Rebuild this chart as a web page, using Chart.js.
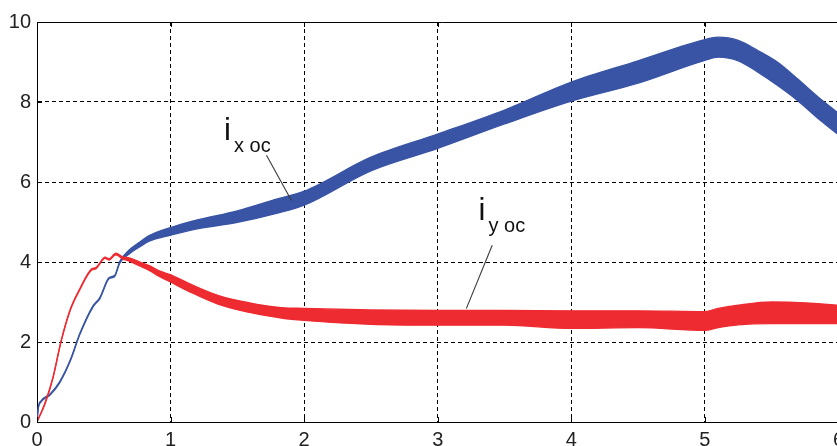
<!DOCTYPE html>
<html>
<head>
<meta charset="utf-8">
<script src="https://cdn.jsdelivr.net/npm/chart.js@4/dist/chart.umd.min.js"></script>
<style>
  html, body { margin: 0; padding: 0; background: #fff; overflow: hidden; width: 837px; height: 446px; }
  #wrap { width: 850px; height: 446px; }
</style>
</head>
<body>
<div id="wrap"><canvas id="c" width="850" height="446"></canvas></div>
<script>
// Axis ticks
const xTicks = [0, 1, 2, 3, 4, 5, 6];
const yTicks = [0, 2, 4, 6, 8, 10];

// i_x oc : lower / upper edge of the ripple band
const ixX    = [0, 0.01, 0.03, 0.10, 0.17, 0.25, 0.32, 0.42, 0.47, 0.54, 0.58, 0.62, 0.69, 0.77, 0.84, 1.00, 1.20, 1.50, 1.80, 2.00, 2.50, 3.00, 3.50, 4.00, 4.50, 5.00, 5.10, 5.25, 5.40, 5.55, 5.70, 5.85, 6.00];
const ixLow  = [0, 0.35, 0.50, 0.68, 0.98, 1.53, 2.18, 2.88, 3.08, 3.58, 3.63, 3.97, 4.20, 4.38, 4.52, 4.67, 4.83, 4.99, 5.22, 5.42, 6.28, 6.84, 7.45, 8.02, 8.47, 9.04, 9.12, 9.03, 8.74, 8.40, 8.02, 7.58, 7.18];
const ixHigh = [0, 0.38, 0.53, 0.71, 1.01, 1.56, 2.21, 2.91, 3.11, 3.61, 3.66, 4.02, 4.30, 4.50, 4.66, 4.86, 5.05, 5.28, 5.58, 5.77, 6.62, 7.20, 7.80, 8.50, 9.03, 9.56, 9.62, 9.54, 9.28, 8.98, 8.56, 8.12, 7.72];

// i_y oc : lower / upper edge of the ripple band
const iyX    = [0, 0.06, 0.12, 0.18, 0.25, 0.32, 0.41, 0.44, 0.51, 0.54, 0.59, 0.64, 0.69, 0.77, 0.84, 0.92, 1.00, 1.14, 1.36, 1.59, 1.83, 2.00, 2.50, 3.00, 3.50, 4.00, 4.50, 5.00, 5.10, 5.25, 5.50, 5.75, 6.00];
const iyLow  = [0, 0.45, 1.10, 2.00, 2.80, 3.30, 3.80, 3.83, 4.09, 4.05, 4.18, 4.08, 4.02, 3.90, 3.79, 3.63, 3.50, 3.26, 2.94, 2.74, 2.60, 2.54, 2.44, 2.42, 2.42, 2.34, 2.36, 2.29, 2.36, 2.43, 2.46, 2.46, 2.46];
const iyHigh = [0, 0.48, 1.13, 2.03, 2.83, 3.33, 3.83, 3.86, 4.12, 4.08, 4.22, 4.13, 4.10, 4.00, 3.91, 3.77, 3.68, 3.46, 3.16, 2.98, 2.86, 2.84, 2.80, 2.79, 2.79, 2.78, 2.78, 2.76, 2.84, 2.92, 3.00, 2.98, 2.92];

// Curve labels (data coordinates of the text baseline) and their leader lines
const curveLabels = [
  { main: 'i', sub: 'x oc', x: 1.40, y: 7.04 },
  { main: 'i', sub: 'y oc', x: 3.305, y: 5.04 }
];
const leaderLines = [
  [1.718, 6.67, 1.905, 5.54],
  [3.408, 4.42, 3.214, 2.835]
];

const BLUE = '#3954a5';
const RED = '#ee2b31';

const pts = (xs, ys) => xs.map((v, i) => ({ x: v, y: ys[i] }));

function band(xs, lo, hi, color) {
  const common = {
    borderColor: color,
    backgroundColor: color,
    borderWidth: 1.3,
    pointRadius: 0,
    cubicInterpolationMode: 'monotone'
  };
  return [
    Object.assign({ data: pts(xs, lo), fill: false }, common),
    Object.assign({ data: pts(xs, hi), fill: '-1' }, common)
  ];
}

// Box top edge, inward tick marks and curve labels
const frameAndNotes = {
  id: 'frameAndNotes',
  afterDatasetsDraw(chart) {
    const { ctx, chartArea: a, scales: { x, y } } = chart;
    ctx.save();
    ctx.strokeStyle = '#000';
    ctx.lineWidth = 1;
    ctx.setLineDash([]);
    ctx.beginPath();
    ctx.moveTo(a.left, Math.round(a.top) + 0.5);
    ctx.lineTo(a.right + 10, Math.round(a.top) + 0.5);
    ctx.stroke();
    // inward ticks
    ctx.beginPath();
    xTicks.forEach(v => {
      const px = Math.round(x.getPixelForValue(v)) + 0.5;
      ctx.moveTo(px, a.top); ctx.lineTo(px, a.top + 5);
      ctx.moveTo(px, a.bottom); ctx.lineTo(px, a.bottom - 5);
    });
    yTicks.forEach(v => {
      const py = Math.round(y.getPixelForValue(v)) + 0.5;
      ctx.moveTo(a.left, py); ctx.lineTo(a.left + 5, py);
    });
    ctx.stroke();

    // leader lines
    ctx.strokeStyle = '#3a3a3a';
    ctx.lineWidth = 1.1;
    leaderLines.forEach(l => {
      ctx.beginPath();
      ctx.moveTo(x.getPixelForValue(l[0]), y.getPixelForValue(l[1]));
      ctx.lineTo(x.getPixelForValue(l[2]), y.getPixelForValue(l[3]));
      ctx.stroke();
    });

    // labels
    ctx.fillStyle = '#111';
    ctx.textBaseline = 'alphabetic';
    ctx.textAlign = 'left';
    curveLabels.forEach(l => {
      const px = x.getPixelForValue(l.x);
      const py = y.getPixelForValue(l.y);
      ctx.font = '31px "Liberation Sans", Arial, sans-serif';
      ctx.fillText(l.main, px, py);
      ctx.font = '20px "Liberation Sans", Arial, sans-serif';
      ctx.fillText(l.sub, px + 10, py + 12);
    });
    ctx.restore();
  }
};

const tickFont = { family: '"Liberation Sans", Arial, sans-serif', size: 20 };

new Chart(document.getElementById('c'), {
  type: 'line',
  data: {
    datasets: [
      ...band(iyX, iyLow, iyHigh, RED),
      ...band(ixX, ixLow, ixHigh, BLUE)
    ]
  },
  options: {
    responsive: false,
    animation: false,
    devicePixelRatio: 1,
    layout: { padding: { top: 22, right: 7, left: 0, bottom: 0 } },
    plugins: { legend: { display: false }, tooltip: { enabled: false } },
    scales: {
      x: {
        type: 'linear',
        min: 0, max: 6,
        afterBuildTicks: s => { s.ticks = xTicks.map(v => ({ value: v })); },
        afterFit: s => { s.height = 24; },
        ticks: { font: tickFont, color: '#222', padding: 6, maxRotation: 0, autoSkip: false },
        grid: { color: '#000', lineWidth: 1, drawTicks: false },
        border: { display: true, color: '#000', width: 1, dash: [4, 3] }
      },
      y: {
        type: 'linear',
        min: 0, max: 10,
        afterBuildTicks: s => { s.ticks = yTicks.map(v => ({ value: v })); },
        afterFit: s => { s.width = 37; },
        ticks: { font: tickFont, color: '#222', padding: 6, autoSkip: false },
        grid: { color: '#000', lineWidth: 1, drawTicks: false },
        border: { display: true, color: '#000', width: 1, dash: [4, 3] }
      }
    }
  },
  plugins: [frameAndNotes]
});
</script>
</body>
</html>
